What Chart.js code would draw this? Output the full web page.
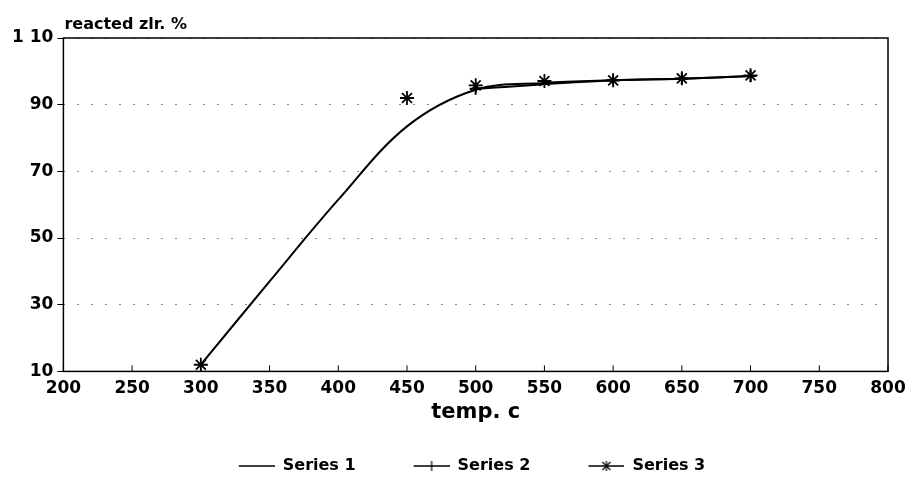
<!DOCTYPE html>
<html>
<head>
<meta charset="utf-8">
<script src="https://cdn.jsdelivr.net/npm/chart.js@4"></script>
<style>
  html, body { margin: 0; padding: 0; background: #fff; }
  #wrap { width: 916px; height: 491px; }
</style>
</head>
<body>
<div id="wrap"><canvas id="Chart1"></canvas></div>
<script>
// values
const temps1 = [300, 350, 400, 450, 500, 550, 600, 650, 700];
const zirc1 = [12, 37, 61.5, 83.5, 94.5, 96.5, 97.3, 97.8, 98.6];
const temps2 = [500, 600, 650, 700];
const zirc2 = [94.8, 97.3, 97.8, 98.6];
const temps3 = [300, 450, 500, 550, 600, 650, 700];
const zirc3 = [12, 92, 95.8, 97.1, 97.3, 97.9, 98.8];
const seriesNames = ['Series 1', 'Series 2', 'Series 3'];
const xTicks = [200, 250, 300, 350, 400, 450, 500, 550, 600, 650, 700, 750, 800];
const yTicks = [10, 30, 50, 70, 90, 110];

const FONT = '"DejaVu Sans", "Liberation Sans", Arial, sans-serif';
const toPts = (xs, ys) => xs.map((x, i) => ({ x: x, y: ys[i] }));

// "line + marker" images for the legend, blank on the left to space the items out
const ICON_W = 84;
const legendIcon = (style) => {
    const c = document.createElement('canvas');
    c.width = ICON_W; c.height = 12;
    const g = c.getContext('2d');
    const x0 = 48, mid = 66;
    g.strokeStyle = '#000';
    g.lineWidth = 1.3;
    g.beginPath(); g.moveTo(x0, 6); g.lineTo(ICON_W, 6); g.stroke();
    g.lineWidth = 1.2;
    if (style === 'cross' || style === 'star') {
        g.beginPath(); g.moveTo(mid, 1); g.lineTo(mid, 11); g.stroke();
    }
    if (style === 'star') {
        g.beginPath();
        g.moveTo(mid - 4, 2); g.lineTo(mid + 4, 10);
        g.moveTo(mid + 4, 2); g.lineTo(mid - 4, 10);
        g.stroke();
    }
    return c;
};
const icons = [legendIcon('none'), legendIcon('cross'), legendIcon('star')];

const frame = {
    id: 'frame',
    afterDraw(chart) {
        const { ctx, chartArea: a } = chart;
        ctx.save();
        ctx.strokeStyle = '#000';
        ctx.lineWidth = 1.5;
        ctx.strokeRect(a.left, a.top, a.right - a.left, a.bottom - a.top);
        // x ticks pointing up into the plot
        const xs = chart.scales.x;
        ctx.lineWidth = 1;
        xTicks.forEach(t => {
            const px = xs.getPixelForValue(t);
            ctx.beginPath(); ctx.moveTo(px, a.bottom); ctx.lineTo(px, a.bottom - 6); ctx.stroke();
        });
        ctx.fillStyle = '#000';
        ctx.font = 'bold 16px ' + FONT;
        ctx.textAlign = 'left';
        ctx.textBaseline = 'bottom';
        ctx.fillText('reacted zlr. %', a.left + 1, a.top - 5);
        ctx.restore();
    }
};

new Chart(document.getElementById('Chart1').getContext('2d'), {
    type: 'scatter',
    data: {
        datasets: [{
            label: seriesNames[0],
            data: toPts(temps1, zirc1),
            showLine: true,
            borderColor: '#000',
            borderWidth: 2,
            pointRadius: 0,
            tension: 0.35
        }, {
            label: seriesNames[1],
            data: toPts(temps2, zirc2),
            showLine: true,
            borderColor: '#000',
            borderWidth: 2,
            pointStyle: 'cross',
            pointRadius: 6,
            pointBorderWidth: 2,
            pointBorderColor: '#000',
            tension: 0.35
        }, {
            label: seriesNames[2],
            data: toPts(temps3, zirc3),
            showLine: false,
            pointStyle: 'star',
            pointRadius: 7,
            pointBorderWidth: 1.8,
            pointBorderColor: '#000',
            borderColor: '#000'
        }]
    },
    options: {
        responsive: true,
        maintainAspectRatio: false,
        animation: false,
        layout: { padding: { top: 38, right: 28, left: 8, bottom: 7 } },
        scales: {
            x: {
                type: 'linear',
                min: 200, max: 800,
                afterBuildTicks: (s) => { s.ticks = xTicks.map(v => ({ value: v })); },
                grid: { display: false, drawTicks: false },
                border: { display: false },
                ticks: {
                    color: '#000',
                    padding: 7,
                    font: { family: FONT, size: 17, weight: 'bold' }
                },
                title: {
                    display: true,
                    text: 'temp. c',
                    color: '#000',
                    padding: { top: -6, bottom: 23 },
                    font: { family: FONT, size: 21, weight: 'bold' }
                }
            },
            y: {
                min: 10, max: 110,
                afterBuildTicks: (s) => { s.ticks = yTicks.map(v => ({ value: v })); },
                grid: {
                    color: '#888',
                    lineWidth: 1,
                    drawTicks: true,
                    tickLength: 6,
                    tickColor: '#000'
                },
                border: { display: false, dash: [2, 12] },
                ticks: {
                    color: '#000',
                    padding: 4,
                    font: { family: FONT, size: 17, weight: 'bold' },
                    callback: (v) => v === 110 ? '1 10' : v
                }
            }
        },
        plugins: {
            legend: {
                position: 'bottom',
                labels: {
                    color: '#000',
                    usePointStyle: true,
                    pointStyleWidth: ICON_W,
                    padding: 10,
                    font: { family: FONT, size: 16, weight: 'bold' },
                    generateLabels: (chart) => seriesNames.map((n, i) => ({
                        text: n,
                        pointStyle: icons[i],
                        datasetIndex: i,
                        fillStyle: '#000',
                        strokeStyle: '#000',
                        fontColor: '#000',
                        hidden: false
                    }))
                }
            },
            tooltip: { enabled: false }
        }
    },
    plugins: [frame]
});
</script>
</body>
</html>
